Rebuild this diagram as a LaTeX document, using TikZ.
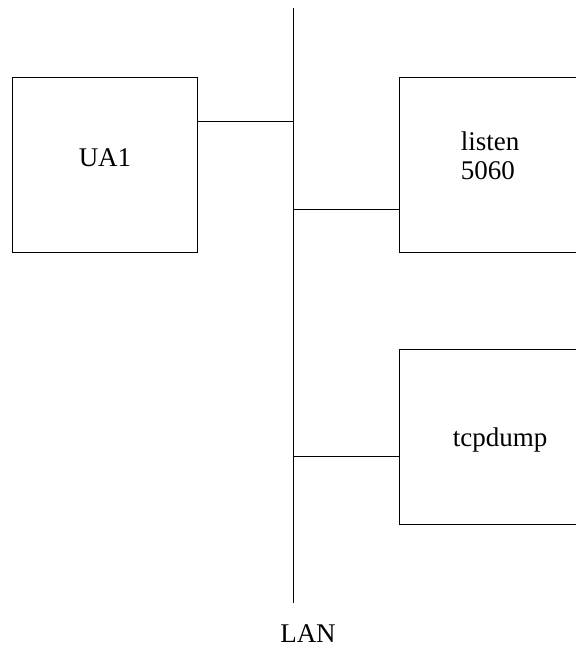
\documentclass[tikz,border=0pt]{standalone}
\usepackage{fontspec}
\setmainfont{Liberation Serif}
\begin{document}
\begin{tikzpicture}[x=1pt,y=-1pt,line width=0.9pt,
  box/.style={draw,minimum width=185pt,minimum height=175pt,anchor=north west,inner sep=0pt},
  lbl/.style={font=\fontsize{27}{29}\selectfont,align=left}]
\useasboundingbox (0,0) rectangle (576,654);
\clip (0,0) rectangle (576,654);
\node[box] (ua) at (12,77) {};
\node[box,minimum width=250pt] (li) at (399,77) {};
\node[box,minimum width=250pt] (tc) at (399,349) {};
\node[lbl] (tua) at (105,158) {UA1};
\node[lbl] (tli) at (490,156) {listen\\5060};
\node[lbl] (ttc) at (500,440) {tcpdump};
\coordinate (top) at (293,8);
\coordinate (bot) at (293,603);
\node[lbl] (lan) at (308,634) {LAN};
\draw (top) -- (bot);
\coordinate (j1) at (293,121);
\coordinate (j2) at (293,209);
\coordinate (j3) at (293,456);
\draw (j1) -- (j1 -| ua.east);
\draw (j2) -- (j2 -| li.west);
\draw (j3) -- (j3 -| tc.west);
\end{tikzpicture}
\end{document}
